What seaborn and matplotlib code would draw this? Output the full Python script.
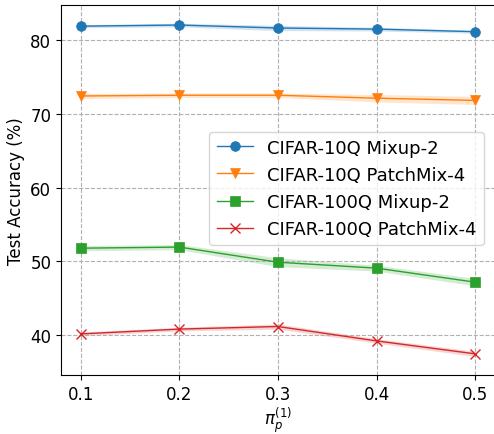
import numpy as np
import pandas as pd
import seaborn as sns
import matplotlib.pyplot as plt

pi_p = [0.1, 0.2, 0.3, 0.4, 0.5]

c10_mixup = [81.85, 82.0, 81.6, 81.45, 81.1]
c10_mixup_sd = [0.2, 0.25, 0.35, 0.25, 0.2]
c10_patch = [72.4, 72.5, 72.5, 72.1, 71.8]
c10_patch_sd = [0.35, 0.3, 0.3, 0.5, 0.55]
c100_mixup = [51.8, 51.95, 49.9, 49.1, 47.2]
c100_mixup_sd = [0.35, 0.35, 0.6, 0.4, 0.5]
c100_patch = [40.2, 40.85, 41.2, 39.25, 37.5]
c100_patch_sd = [0.25, 0.25, 0.35, 0.3, 0.35]

names = ['CIFAR-10Q Mixup-2', 'CIFAR-10Q PatchMix-4',
         'CIFAR-100Q Mixup-2', 'CIFAR-100Q PatchMix-4']
means = [c10_mixup, c10_patch, c100_mixup, c100_patch]
sds = [c10_mixup_sd, c10_patch_sd, c100_mixup_sd, c100_patch_sd]
markers = ['o', 'v', 's', 'x']
colors = ['#1f77b4', '#ff7f0e', '#2ca02c', '#d62728']

fig, ax = plt.subplots(figsize=(4.94, 4.35), dpi=100)

for name, m, sd, mk, c in zip(names, means, sds, markers, colors):
    df = pd.DataFrame({'pi': pi_p, 'acc': m})
    sns.lineplot(data=df, x='pi', y='acc', marker=mk, color=c, label=name,
                 markersize=7, linewidth=1, markeredgecolor=c,
                 markeredgewidth=1 if mk == 'x' else 0.5, ax=ax)
    lo = np.array(m) - np.array(sd)
    hi = np.array(m) + np.array(sd)
    ax.fill_between(pi_p, lo, hi, color=c, alpha=0.2, linewidth=0)

ax.grid(True, linestyle='--', color='#b0b0b0', linewidth=0.8)
ax.set_xticks(pi_p)
ax.set_xlim(0.08, 0.52)
ax.set_xlabel(r'$\pi_p^{(1)}$', fontsize=12, labelpad=1)
ax.set_ylabel('Test Accuracy (%)', fontsize=12)
ax.tick_params(labelsize=12)
ax.legend(fontsize=13, loc='center right', bbox_to_anchor=(0.995, 0.505))
ax.set_ylim(34.6, 84.7)

plt.subplots_adjust(left=0.1235, right=1.002, top=0.986, bottom=0.135)
plt.savefig('out.png')
